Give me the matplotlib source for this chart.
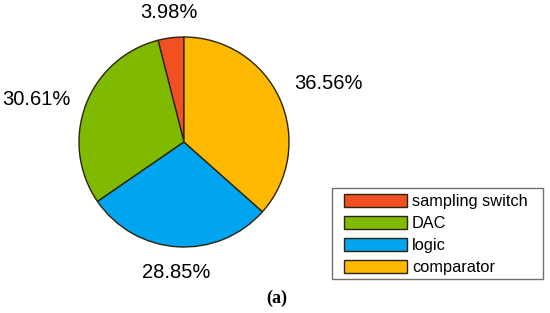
import numpy as np
import matplotlib
matplotlib.use("Agg")
import matplotlib.pyplot as plt
from matplotlib.patches import Rectangle

categories = ["sampling switch", "DAC", "logic", "comparator"]
percentages = [3.98, 30.61, 28.85, 36.56]
colors = ["#F25022", "#7FBA00", "#00A4EF", "#FFB900"]
pct_labels = ["3.98%", "30.61%", "28.85%", "36.56%"]

plt.rcParams['font.family'] = ['Liberation Sans', 'DejaVu Sans']

W, H = 550, 313
fig = plt.figure(figsize=(W / 100, H / 100), dpi=100)

cx, cy, r = 184, 142, 105
ax = fig.add_axes([(cx - r) / W, (H - cy - r) / H, 2 * r / W, 2 * r / H])
wedges, _ = ax.pie(percentages, colors=colors, startangle=90, counterclock=True,
                   wedgeprops=dict(edgecolor="#2b2410", linewidth=1.0), radius=1.0)
ax.set_xlim(-1, 1)
ax.set_ylim(-1, 1)
ax.set_aspect('equal')
ax.axis('off')

d = 1.15
for w, lab in zip(wedges, pct_labels):
    ang = np.deg2rad((w.theta1 + w.theta2) / 2)
    c, s = np.cos(ang), np.sin(ang)
    x, y = d * c, d * s
    if abs(c) < 0.3:
        ha = 'center'
    else:
        ha = 'left' if c > 0 else 'right'
    if s > 0.38:
        va = 'bottom'
    elif s < -0.38:
        va = 'top'
    else:
        va = 'center'
    ax.text(x, y, lab, ha=ha, va=va, fontsize=14.5, color='black', clip_on=False)

# legend frame
lx0, ly0, lx1, ly1 = 332, 188, 543, 279
fig.patches.append(Rectangle((lx0 / W, 1 - ly1 / H), (lx1 - lx0) / W, (ly1 - ly0) / H,
                             transform=fig.transFigure, fill=False,
                             edgecolor='#707070', linewidth=1.0, zorder=5))

leg = fig.legend(wedges, categories, loc='upper left',
                 bbox_to_anchor=(344 / W, 1 - 194 / H),
                 fontsize=11.8, frameon=False,
                 handlelength=3.85, handleheight=0.8, handletextpad=0.3,
                 labelspacing=0.43, borderpad=0.0, borderaxespad=0)

fig.text(277 / W, 1 - 298 / H, "(a)", ha='center', va='center', fontsize=13,
         fontweight='bold', family=['Liberation Serif', 'DejaVu Serif'])

fig.savefig("out.png", dpi=100)
